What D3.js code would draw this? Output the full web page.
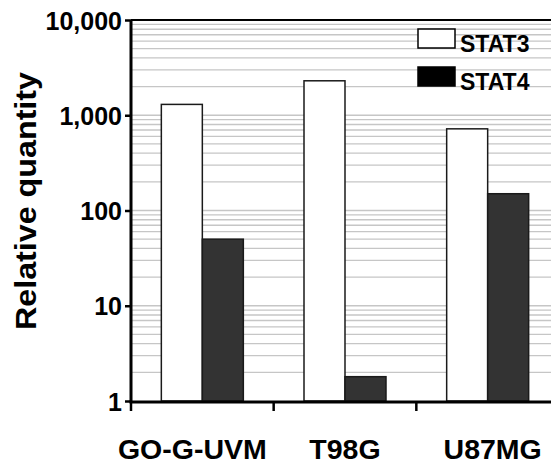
<!DOCTYPE html>
<html>
<head>
<meta charset="utf-8">
<script src="https://cdn.jsdelivr.net/npm/d3@7"></script>
<style>
  html, body { margin: 0; padding: 0; background: #fff; }
  svg { display: block; font-family: "Liberation Sans", Arial, sans-serif; font-weight: bold; }
</style>
</head>
<body>
<svg id="chart" width="551" height="466"></svg>
<script>
// Cell lines and measured relative quantities (log scale)
const categories = ["GO-G-UVM", "T98G", "U87MG"];
const seriesNames = ["STAT3", "STAT4"];
const stat3Values = [1300, 2300, 720];
const stat4Values = [50, 1.8, 150];
const yTickValues = [1, 10, 100, 1000, 10000];
const yTickLabels = ["1", "10", "100", "1,000", "10,000"];

const seriesValues = [stat3Values, stat4Values];
const fills = { STAT3: "#ffffff", STAT4: "#333333" };
const legendFills = { STAT3: "#ffffff", STAT4: "#000000" };
// small horizontal shifts of the category captions
const captionShift = { "GO-G-UVM": -10, "T98G": 0, "U87MG": 5 };

const svg = d3.select("#chart");
const plotLeft = 131, plotTop = 20, plotBottom = 401, plotRight = 559;

const y = d3.scaleLog().domain([1, 10000]).range([plotBottom, plotTop]);
const x0 = d3.scaleBand().domain(categories).range([plotLeft, plotRight]).padding(0);
const x1 = d3.scaleBand().domain(seriesNames).range([0, x0.bandwidth()])
  .paddingInner(0).paddingOuter(0.74);

// Minor + major horizontal gridlines
const gridVals = [];
for (let d = 1; d < 10000; d *= 10) {
  for (let m = 1; m <= 9; m++) {
    const v = d * m;
    if (v > 1 && v < 10000) gridVals.push(v);
  }
}
svg.append("g").selectAll("line").data(gridVals).join("line")
  .attr("x1", plotLeft).attr("x2", 551)
  .attr("y1", d => y(d)).attr("y2", d => y(d))
  .attr("stroke", "#c6c6c6").attr("stroke-width", 1.3);

// Top border
svg.append("line").attr("x1", plotLeft).attr("x2", 551)
  .attr("y1", y(10000)).attr("y2", y(10000))
  .attr("stroke", "#000").attr("stroke-width", 2);

// Bars
const rows = categories.map((c, i) => seriesNames.map((s, j) => ({ cat: c, s, v: seriesValues[j][i] })));
svg.append("g").selectAll("g").data(rows).join("g")
  .attr("transform", d => `translate(${x0(d[0].cat)},0)`)
  .selectAll("rect").data(d => d).join("rect")
  .attr("x", d => x1(d.s))
  .attr("width", x1.bandwidth())
  .attr("y", d => y(d.v))
  .attr("height", d => y(1) - y(d.v))
  .attr("fill", d => fills[d.s])
  .attr("stroke", "#1a1a1a").attr("stroke-width", 1.5);

// Y axis
const yAxis = d3.axisLeft(y).tickValues(yTickValues)
  .tickFormat((d, i) => yTickLabels[i]).tickSize(6).tickPadding(3);
const gy = svg.append("g").attr("transform", `translate(${plotLeft},0)`).call(yAxis);
gy.select(".domain").attr("stroke", "#000").attr("stroke-width", 3)
  .attr("d", `M0,${plotTop}V${plotBottom + 1.5}`);
gy.selectAll(".tick line").attr("stroke", "#000").attr("stroke-width", 2.5);
gy.selectAll(".tick text").attr("font-size", 25).attr("font-weight", "bold")
  .attr("fill", "#000").attr("font-family", "Liberation Sans, Arial, sans-serif")
  .attr("dy", "0.36em");

// X axis: ticks at category boundaries, captions under each group
const boundaries = categories.map(c => x0(c));
const gx = svg.append("g");
gx.append("line").attr("x1", plotLeft - 1.5).attr("x2", 551)
  .attr("y1", plotBottom + 1).attr("y2", plotBottom + 1)
  .attr("stroke", "#000").attr("stroke-width", 3);
gx.selectAll("line.tk").data(boundaries).join("line").attr("class", "tk")
  .attr("x1", d => d).attr("x2", d => d)
  .attr("y1", plotBottom + 1).attr("y2", plotBottom + 10)
  .attr("stroke", "#000").attr("stroke-width", 2.5);
gx.selectAll("text").data(categories).join("text")
  .attr("x", d => x0(d) + x0.bandwidth() / 2 + captionShift[d])
  .attr("y", 459)
  .attr("text-anchor", "middle")
  .attr("font-size", 28.5).attr("fill", "#000")
  .text(d => d);

// Y axis title
svg.append("text")
  .attr("transform", "translate(36,201) rotate(-90)")
  .attr("text-anchor", "middle")
  .attr("font-size", 30)
  .attr("textLength", 258).attr("lengthAdjust", "spacingAndGlyphs")
  .attr("fill", "#000")
  .text("Relative quantity");

// Legend
const legend = svg.append("g").selectAll("g").data(seriesNames).join("g")
  .attr("transform", (d, i) => `translate(418,${29 + i * 38})`);
legend.append("rect").attr("width", 37).attr("height", 19)
  .attr("fill", d => legendFills[d]).attr("stroke", "#000").attr("stroke-width", 1.5);
legend.append("text").attr("x", 42).attr("y", 22.5)
  .attr("font-size", 23).attr("fill", "#000").text(d => d);
</script>
</body>
</html>
